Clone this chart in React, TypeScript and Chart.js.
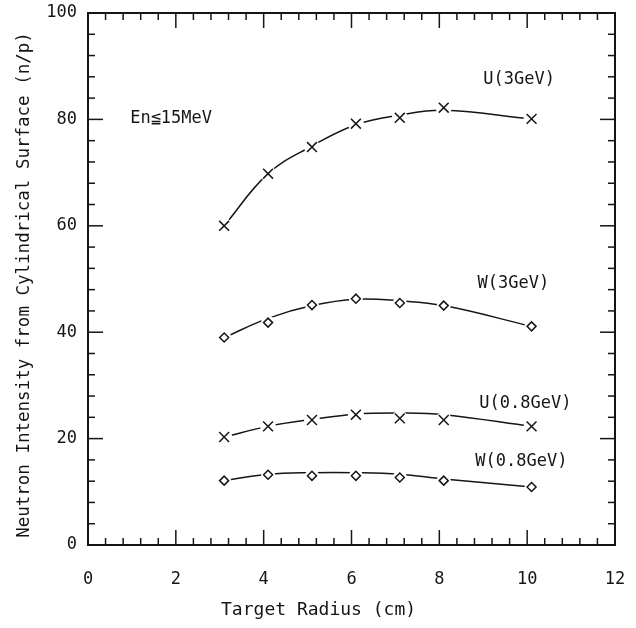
import React, { useEffect, useRef } from 'react';
import { Chart, registerables } from 'chart.js';

Chart.register(...registerables);

// ---------- data ----------
const radius = [3.1, 4.1, 5.1, 6.1, 7.1, 8.1, 10.1];

// measured points (markers)
const u3GeV = [60.0, 69.8, 74.8, 79.2, 80.3, 82.2, 80.1];
const w3GeV = [39.0, 41.8, 45.1, 46.3, 45.5, 45.0, 41.1];
const u08GeV = [20.3, 22.3, 23.5, 24.5, 23.8, 23.5, 22.3];
const w08GeV = [12.1, 13.2, 13.0, 13.0, 12.7, 12.1, 10.9];

// smooth fitted curves at the same radii
const u3Curve = [60.0, 69.8, 75.0, 79.0, 80.8, 81.7, 80.1];
const w3Curve = [39.0, 42.6, 45.0, 46.2, 45.9, 45.0, 41.1];
const u08Curve = [20.3, 22.3, 23.6, 24.6, 24.8, 24.5, 22.3];
const w08Curve = [12.1, 13.3, 13.6, 13.6, 13.3, 12.4, 10.9];

const xTickLabels = [0, 2, 4, 6, 8, 10, 12];
const yTickLabels = [0, 20, 40, 60, 80, 100];

const seriesNames = ['U(3GeV)', 'W(3GeV)', 'U(0.8GeV)', 'W(0.8GeV)'];
const labelX = [9.0, 8.87, 8.91, 8.82];
const labelY = [87.4, 49.2, 26.6, 15.7];

const noteText = 'En\u226615MeV';
const noteX = 0.96;
const noteY = 80.2;

const xTitle = 'Target Radius (cm)';
const yTitle = 'Neutron Intensity from Cylindrical Surface (n/p)';

const INK = '#151515';
const FONT = '"DejaVu Sans Mono", "Liberation Mono", monospace';

export default function App() {
  const ref = useRef<HTMLCanvasElement>(null);

  useEffect(() => {
    if (!ref.current) return;
    const seriesValues = [u3GeV, w3GeV, u08GeV, w08GeV];
    const curveValues = [u3Curve, w3Curve, u08Curve, w08Curve];
    const styles = ['crossRot', 'rectRot', 'crossRot', 'rectRot'];
    const markerR = [7, 4.5, 7, 4.5];
    const haloR = [8, 7, 8, 7];

    const datasets: any[] = [];
    seriesValues.forEach((vals, si) => {
      const pts = radius.map((x, i) => ({ x, y: vals[i] }));
      const cpts = radius.map((x, i) => ({ x, y: curveValues[si][i] }));
      datasets.push({
        label: seriesNames[si] + ' curve',
        data: cpts,
        showLine: true,
        tension: 0.4,
        borderColor: INK,
        borderWidth: 1.5,
        fill: false,
        pointRadius: 0,
        order: 3,
      });
      datasets.push({
        label: seriesNames[si] + ' gap',
        data: pts,
        showLine: false,
        pointStyle: 'circle',
        pointRadius: haloR[si],
        pointBackgroundColor: '#ffffff',
        pointBorderColor: '#ffffff',
        pointBorderWidth: 0,
        order: 2,
      });
      datasets.push({
        label: seriesNames[si],
        data: pts,
        showLine: false,
        pointStyle: styles[si],
        pointRadius: markerR[si],
        pointBackgroundColor: 'rgba(0,0,0,0)',
        pointBorderColor: INK,
        pointBorderWidth: 1.5,
        borderColor: INK,
        order: 1,
      });
    });

    const decor = {
      id: 'decor',
      afterDraw(chart: any) {
        const { ctx, chartArea: a, scales } = chart;
        const xs = scales.x;
        const ys = scales.y;
        ctx.save();
        ctx.strokeStyle = INK;
        ctx.lineWidth = 2;
        ctx.strokeRect(a.left, a.top, a.right - a.left, a.bottom - a.top);
        ctx.lineWidth = 1.5;
        const seg = (x1: number, y1: number, x2: number, y2: number) => {
          ctx.beginPath();
          ctx.moveTo(x1, y1);
          ctx.lineTo(x2, y2);
          ctx.stroke();
        };
        for (let i = 0; i <= 30; i++) {
          const v = i * 0.4;
          const len = i % 5 === 0 ? 15 : 7;
          const px = xs.getPixelForValue(v);
          seg(px, a.bottom, px, a.bottom - len);
          seg(px, a.top, px, a.top + len);
        }
        for (let i = 0; i <= 25; i++) {
          const v = i * 4;
          const len = i % 5 === 0 ? 15 : 7;
          const py = ys.getPixelForValue(v);
          seg(a.left, py, a.left + len, py);
          seg(a.right, py, a.right - len, py);
        }
        ctx.fillStyle = INK;
        ctx.font = `17px ${FONT}`;
        ctx.textAlign = 'left';
        ctx.textBaseline = 'middle';
        seriesNames.forEach((name, i) => {
          ctx.fillText(name, xs.getPixelForValue(labelX[i]), ys.getPixelForValue(labelY[i]));
        });
        ctx.fillText(noteText, xs.getPixelForValue(noteX), ys.getPixelForValue(noteY));

        ctx.font = `18px ${FONT}`;
        ctx.textAlign = 'center';
        ctx.fillText(xTitle, xs.getPixelForValue(5.25), 610);
        ctx.save();
        ctx.translate(24, (a.top + a.bottom) / 2 + 6);
        ctx.rotate(-Math.PI / 2);
        ctx.font = `17.5px ${FONT}`;
        ctx.fillText(yTitle, 0, 0);
        ctx.restore();
        ctx.restore();
      },
    };

    const chart = new Chart(ref.current, {
      type: 'scatter',
      data: { datasets },
      options: {
        animation: false,
        responsive: false,
        devicePixelRatio: 1,
        layout: { padding: { top: 13, right: 21, left: 0, bottom: 0 } },
        plugins: { legend: { display: false }, tooltip: { enabled: false } },
        scales: {
          x: {
            type: 'linear',
            min: 0,
            max: 12,
            afterFit: (s: any) => {
              s.height = 83;
              s.paddingLeft = 0;
              s.paddingRight = 0;
            },
            afterBuildTicks: (s: any) => { s.ticks = xTickLabels.map((v) => ({ value: v })); },
            grid: { display: false, drawTicks: false },
            border: { display: false },
            ticks: {
              color: INK,
              font: { family: FONT, size: 17 },
              padding: 24,
              maxRotation: 0,
              autoSkip: false,
            },
          },
          y: {
            type: 'linear',
            min: 0,
            max: 100,
            afterFit: (s: any) => {
              s.width = 88;
              s.paddingTop = 0;
              s.paddingBottom = 0;
            },
            afterBuildTicks: (s: any) => { s.ticks = yTickLabels.map((v) => ({ value: v })); },
            grid: { display: false, drawTicks: false },
            border: { display: false },
            ticks: {
              color: INK,
              font: { family: FONT, size: 17 },
              padding: 11,
              autoSkip: false,
            },
          },
        },
      },
      plugins: [decor],
    });
    return () => chart.destroy();
  }, []);

  return (
    <div style={{ position: 'absolute', left: 0, top: 0, width: 636, height: 628, background: '#fff' }}>
      <canvas ref={ref} width={636} height={628} style={{ display: 'block', width: 636, height: 628 }} />
    </div>
  );
}
